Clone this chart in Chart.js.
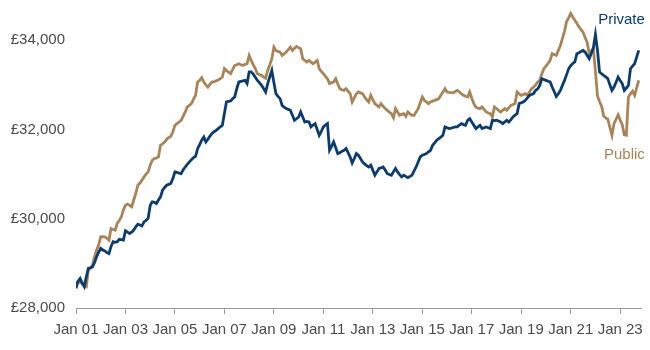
<!DOCTYPE html>
<html>
<head>
<meta charset="utf-8">
<script src="https://cdn.jsdelivr.net/npm/chart.js@4.4.0/dist/chart.umd.min.js"></script>
<style>
  html, body { margin: 0; padding: 0; background: #fff; }
  #wrap { width: 650px; height: 350px; position: relative; }
</style>
</head>
<body>
<div id="wrap"><canvas id="salaryChart"></canvas></div>
<script>
// Salario medio mensual, enero 2001 - octubre 2023 (una fila por año)
const privateSalary = [
  28440, 28600, 28660, 28560, 28480, 28700, 28890, 28900, 28920, 29020, 29150, 29250,
  29335, 29300, 29280, 29240, 29220, 29380, 29485, 29470, 29485, 29540, 29530, 29520,
  29730, 29700, 29670, 29700, 29745, 29820, 29880, 29860, 29840, 29930, 29960, 30010,
  30300, 30380, 30370, 30340, 30420, 30490, 30640, 30700, 30750, 30770, 30790, 30900,
  31050, 31040, 31020, 31010, 31100, 31160, 31220, 31275, 31320, 31370, 31400, 31570,
  31660, 31760, 31830, 31720, 31780, 31850, 31910, 31950, 31980, 32020, 32060, 32095,
  32360, 32620, 32630, 32640, 32690, 32730, 32915, 33065, 33080, 33090, 33100, 33030,
  33290, 33290, 33240, 33170, 33100, 33050, 32990, 32920, 32840, 33027, 33180, 33324,
  33050, 32804, 32740, 32692, 32541, 32500, 32468, 32450, 32430, 32320, 32206, 32240,
  32281, 32393, 32280, 32168, 32180, 32168, 32058, 32100, 32132, 32000, 31870, 31960,
  32058, 32100, 32132, 31535, 31620, 31720, 31590, 31460, 31480, 31510, 31535, 31573,
  31480, 31385, 31250, 31350, 31460, 31423, 31350, 31273, 31230, 31190, 31160, 31200,
  31090, 30975, 31050, 31125, 31140, 31160, 31090, 31013, 30990, 30975, 31050, 31125,
  31050, 30990, 30938, 30975, 30950, 30920, 30950, 30975, 31070, 31160, 31270, 31385,
  31423, 31440, 31460, 31500, 31535, 31646, 31700, 31758, 31796, 31830, 31870, 32058,
  32040, 32021, 32030, 32045, 32058, 32058, 32100, 32132, 32110, 32095, 32206, 32244,
  32170, 32095, 32021, 32060, 32095, 32021, 32040, 32058, 32040, 32021, 32206, 32200,
  32206, 32190, 32168, 32132, 32170, 32206, 32168, 32220, 32281, 32320, 32356, 32580,
  32600, 32617, 32654, 32710, 32765, 32785, 32804, 32877, 32910, 32990, 33138, 33120,
  33100, 33080, 33065, 32952, 32850, 32740, 32800, 32877, 32990, 33100, 33230, 33360,
  33430, 33480, 33512, 33698, 33720, 33750, 33772, 33735, 33660, 33586, 33700, 33830,
  34130, 33772, 33288, 33250, 33213, 33180, 33140, 33000, 32877, 32950, 33060, 33175,
  33100, 33030, 32877, 32930, 32990, 33362, 33420, 33474, 33620, 33772
];

const publicSalary = [
  28580, 28560, 28590, 28540, 28500, 28477, 28850, 28900, 28960, 29150, 29300, 29410,
  29595, 29600, 29595, 29560, 29520, 29780, 29760, 29745, 29894, 29960, 30043, 30200,
  30304, 30327, 30300, 30267, 30420, 30565, 30752, 30800, 30864, 30938, 31000, 31050,
  31200, 31311, 31349, 31360, 31385, 31646, 31680, 31720, 31780, 31820, 31848, 31950,
  32095, 32130, 32168, 32206, 32300, 32393, 32505, 32540, 32580, 32680, 32765, 33065,
  33100, 33160, 33065, 33000, 32952, 33010, 33065, 33065, 33090, 33110, 33138, 33175,
  33363, 33320, 33286, 33250, 33340, 33436, 33450, 33474, 33450, 33436, 33460, 33474,
  33660, 33548, 33450, 33363, 33250, 33230, 33213, 33180, 33150, 33324, 33450, 33586,
  33847, 33772, 33750, 33735, 33660, 33700, 33735, 33790, 33847, 33772, 33820, 33861,
  33830, 33810, 33586, 33550, 33512, 33548, 33510, 33474, 33510, 33548, 33362, 33300,
  33250, 33190, 33138, 33027, 33050, 33065, 33138, 33020, 32915, 32890, 32877, 32915,
  32860, 32804, 32617, 32710, 32800, 32840, 32820, 32804, 32728, 32670, 32617, 32765,
  32670, 32580, 32540, 32505, 32580, 32520, 32468, 32430, 32390, 32356, 32266, 32468,
  32390, 32318, 32340, 32356, 32296, 32393, 32350, 32318, 32318, 32390, 32468, 32600,
  32728, 32654, 32620, 32580, 32617, 32635, 32654, 32670, 32692, 32765, 32840, 32915,
  32840, 32830, 32825, 32820, 32850, 32877, 32840, 32800, 32765, 32745, 32728, 32840,
  32700, 32580, 32500, 32480, 32468, 32505, 32450, 32393, 32370, 32356, 32281, 32505,
  32470, 32430, 32393, 32430, 32468, 32430, 32490, 32541, 32560, 32580, 32840, 32800,
  32765, 32785, 32804, 32765, 32840, 32915, 32952, 33000, 33065, 33100, 33250, 33362,
  33420, 33480, 33548, 33698, 33680, 33660, 33770, 33884, 34040, 34200, 34420, 34500,
  34600, 34520, 34450, 34380, 34300, 34240, 34182, 34060, 33950, 33700, 33760, 33810,
  33300, 32750, 32620, 32520, 32300, 32260, 32230, 32050, 31870, 32132, 32230, 32330,
  32210, 32110, 31880, 31870, 32728, 32800, 32860, 32765, 32930, 33100
];

const tickLabels = ['Jan 01', 'Jan 03', 'Jan 05', 'Jan 07', 'Jan 09', 'Jan 11',
                    'Jan 13', 'Jan 15', 'Jan 17', 'Jan 19', 'Jan 21', 'Jan 23'];
const yTicks = [28000, 30000, 32000, 34000];

const seriesNames = ['Private', 'Public'];
const seriesColors = ['#0c3b6c', '#a8845b'];

const FONT = '"Liberation Sans", Arial, sans-serif';

// convierte la serie mensual en puntos {x: índice de mes, y: valor}
function toPoints(values) {
  return values.map((v, i) => ({ x: i, y: v }));
}

// etiquetas de serie al final de cada línea
const endLabels = {
  id: 'endLabels',
  afterDatasetsDraw(chart) {
    const { ctx, chartArea } = chart;
    ctx.save();
    ctx.font = '15px ' + FONT;
    ctx.textAlign = 'right';
    ctx.textBaseline = 'middle';
    ctx.fillStyle = seriesColors[0];
    ctx.fillText(seriesNames[0], chartArea.right + 3, 20);
    ctx.fillStyle = seriesColors[1];
    ctx.fillText(seriesNames[1], chartArea.right + 3, 155);
    ctx.restore();
  }
};

const ctx = document.getElementById('salaryChart').getContext('2d');
const chart = new Chart(ctx, {
  type: 'line',
  data: {
    datasets: [
      {
        label: seriesNames[0],
        data: toPoints(privateSalary),
        borderColor: seriesColors[0],
        borderWidth: 2.8,
        pointRadius: 0,
        tension: 0
      },
      {
        label: seriesNames[1],
        data: toPoints(publicSalary),
        borderColor: seriesColors[1],
        borderWidth: 2.8,
        pointRadius: 0,
        tension: 0
      }
    ]
  },
  options: {
    responsive: true,
    maintainAspectRatio: false,
    animation: false,
    devicePixelRatio: 1,
    layout: { padding: { top: 9, right: 8, left: 0, bottom: 0 } },
    plugins: {
      legend: { display: false },
      tooltip: { enabled: false }
    },
    scales: {
      x: {
        type: 'linear',
        min: 0,
        max: 274.5,
        grid: {
          display: true,
          drawOnChartArea: false,
          drawTicks: true,
          tickLength: 6,
          color: '#9a9a9a'
        },
        border: { display: true, color: '#9a9a9a', width: 1 },
        ticks: {
          stepSize: 24,
          includeBounds: false,
          autoSkip: false,
          maxRotation: 0,
          padding: 7,
          color: '#4a4a4a',
          font: { family: FONT, size: 15 },
          callback: (v) => tickLabels[v / 24]
        },
        afterFit: (scale) => { scale.height = 42; }
      },
      y: {
        min: 28000,
        max: 34700,
        grid: { display: false, drawTicks: false },
        border: { display: false },
        afterBuildTicks: (scale) => {
          scale.ticks = yTicks.map(v => ({ value: v }));
        },
        ticks: {
          padding: 11,
          color: '#4a4a4a',
          font: { family: FONT, size: 15 },
          callback: (v) => '£' + v.toLocaleString('en-GB')
        },
        afterFit: (scale) => {
          scale.width = 76;
          // sin margen extra arriba/abajo por las etiquetas
          scale.paddingTop = 0;
          scale.paddingBottom = 0;
        }
      }
    }
  },
  plugins: [endLabels]
});
</script>
</body>
</html>
